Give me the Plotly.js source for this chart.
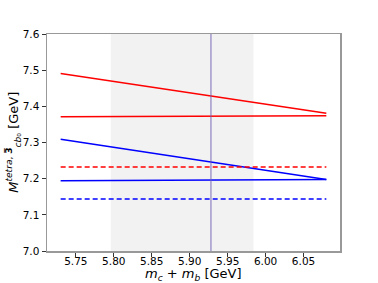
<!DOCTYPE html>
<html>
<head>
<meta charset="utf-8">
<script src="https://cdn.plot.ly/plotly-3.0.1.min.js"></script>
<style>html,body{margin:0;padding:0;background:#fff;}#chart{width:378px;height:283px;}</style>
</head>
<body>
<div id="chart"></div>
<script>
// Data
const xMass = [5.73, 6.08];
const redSlope = [7.491, 7.381];
const redFlat = [7.371, 7.374];
const blueSlope = [7.309, 7.198];
const blueFlat = [7.194, 7.198];
const redDashed = [7.232, 7.232];
const blueDashed = [7.144, 7.144];
const bandRange = [5.796, 5.984];
const centralMass = 5.928;
const xTicks = [5.75, 5.80, 5.85, 5.90, 5.95, 6.00, 6.05];
const xTickText = ["5.75", "5.80", "5.85", "5.90", "5.95", "6.00", "6.05"];
const yTicks = [7.0, 7.1, 7.2, 7.3, 7.4, 7.5, 7.6];
const yTickText = ["7.0", "7.1", "7.2", "7.3", "7.4", "7.5", "7.6"];
const xTitle = '<i>m</i><sub><i>c</i></sub> + <i>m</i><sub><i>b</i></sub> [GeV]';
const yTitle = '<i>M</i><sup><i>tetra</i>, <b>3\u0305</b></sup><sub><i>cb</i>\u2080</sub> [GeV]';

const line = (y, color, dash) => ({
  x: xMass, y: y, mode: 'lines', type: 'scatter',
  line: {color: color, width: 1.5, dash: dash || 'solid'},
  hoverinfo: 'skip', showlegend: false
});

const traces = [
  line(redSlope, '#ff0000'),
  line(redFlat, '#ff0000'),
  line(blueSlope, '#0000ff'),
  line(blueFlat, '#0000ff'),
  line(redDashed, '#ff0000', '5px,3px'),
  line(blueDashed, '#0000ff', '5px,3px')
];

const axisCommon = {
  showgrid: false, zeroline: false, ticks: 'outside', ticklen: 4, tickwidth: 1,
  tickcolor: '#333', showline: true, linecolor: '#999', linewidth: 1.5, mirror: true,
  tickfont: {family: 'DejaVu Sans', size: 10.5, color: '#000'}
};

const layout = {
  width: 378, height: 283,
  margin: {l: 47, r: 38, t: 34, b: 32},
  paper_bgcolor: '#fff', plot_bgcolor: '#fff',
  xaxis: Object.assign({}, axisCommon, {
    range: [5.712, 6.098], tickvals: xTicks, ticktext: xTickText, ticklabelstandoff: -4
  }),
  yaxis: Object.assign({}, axisCommon, {
    range: [7.0, 7.6], tickvals: yTicks, ticktext: yTickText
  }),
  annotations: [
    {text: xTitle, xref: 'paper', yref: 'paper', x: 0.5, y: -0.106, xanchor: 'center', yanchor: 'middle',
     showarrow: false, font: {family: 'DejaVu Sans', size: 13, color: '#000'}},
    {text: yTitle, xref: 'paper', yref: 'paper', x: -0.115, y: 0.5, xanchor: 'center', yanchor: 'middle',
     textangle: -90, showarrow: false, font: {family: 'DejaVu Sans', size: 13, color: '#000'}}
  ],
  shapes: [
    {type: 'rect', xref: 'x', yref: 'paper', x0: bandRange[0], x1: bandRange[1], y0: 0, y1: 1,
     fillcolor: '#f2f2f2', line: {width: 0}, layer: 'below'},
    {type: 'line', xref: 'x', yref: 'paper', x0: centralMass, x1: centralMass, y0: 0, y1: 1,
     line: {color: '#6e5fb0', width: 0.9}, layer: 'above'}
  ]
};

Plotly.newPlot('chart', traces, layout, {displayModeBar: false, staticPlot: true});
</script>
</body>
</html>
